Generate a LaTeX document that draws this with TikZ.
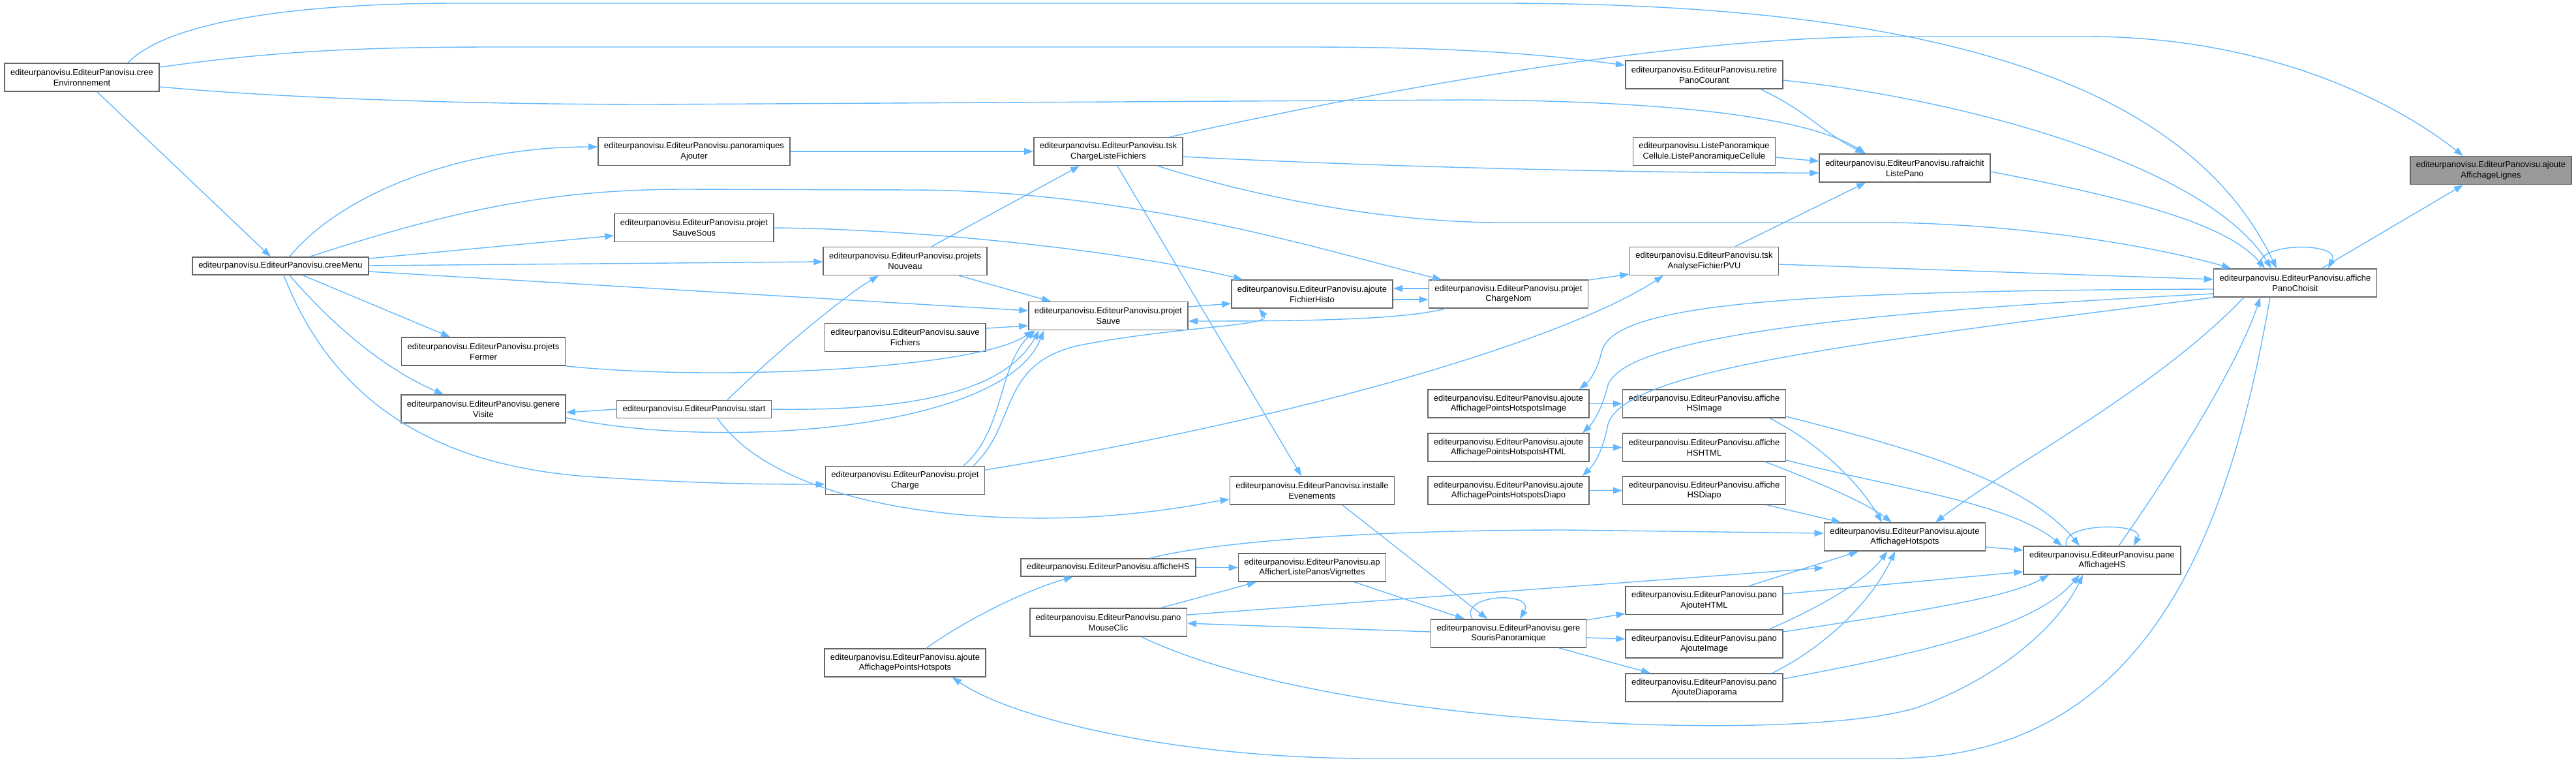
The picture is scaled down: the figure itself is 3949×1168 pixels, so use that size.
\documentclass[tikz,border=0pt]{standalone}
\usepackage{fontspec}
\setmainfont{Liberation Sans}
\usetikzlibrary{arrows.meta}
\definecolor{edgeblue}{HTML}{63B8FF}
\definecolor{boxgray}{HTML}{666666}
\definecolor{selgray}{HTML}{999999}
\begin{document}
\begin{tikzpicture}[x=1pt,y=-1pt,
	fn/.style={draw=boxgray, line width=1.6pt, fill=white, align=center,
		font=\fontsize{13}{15.7}\selectfont, inner xsep=9pt, minimum height=43pt},
	fn1/.style={fn, minimum height=27pt},
	fnsel/.style={fn, fill=selgray},
	edge/.style={draw=edgeblue, line width=1.4pt, -{Triangle[length=14pt,width=10pt]}}]
	
	\useasboundingbox (0,0) rectangle (3949,1168);
	
	% Nodes
	\node[fn] (creeEnv) at (125.5,118.5) {editeurpanovisu.EditeurPanovisu.cree\\Environnement};
	\node[fn1] (creeMenu) at (430,407.5) {editeurpanovisu.EditeurPanovisu.creeMenu};
	\node[fn] (fermer) at (741,538.5) {editeurpanovisu.EditeurPanovisu.projets\\Fermer};
	\node[fn] (genere) at (741,626.5) {editeurpanovisu.EditeurPanovisu.genere\\Visite};
	\node[fn] (panoAjouter) at (1064,232) {editeurpanovisu.EditeurPanovisu.panoramiques\\Ajouter};
	\node[fn] (sauveSous) at (1064,349) {editeurpanovisu.EditeurPanovisu.projet\\SauveSous};
	\node[fn1] (start) at (1064,627) {editeurpanovisu.EditeurPanovisu.start};
	\node[fn] (nouveau) at (1387.5,400) {editeurpanovisu.EditeurPanovisu.projets\\Nouveau};
	\node[fn] (sauveFich) at (1387.5,517) {editeurpanovisu.EditeurPanovisu.sauve\\Fichiers};
	\node[fn] (charge) at (1387.5,736) {editeurpanovisu.EditeurPanovisu.projet\\Charge};
	\node[fn] (ptsHotspots) at (1387.5,1015.5) {editeurpanovisu.EditeurPanovisu.ajoute\\AffichagePointsHotspots};
	\node[fn] (tskCharge) at (1699,232) {editeurpanovisu.EditeurPanovisu.tsk\\ChargeListeFichiers};
	\node[fn] (sauve) at (1699,484) {editeurpanovisu.EditeurPanovisu.projet\\Sauve};
	\node[fn1] (afficheHS) at (1699,869.5) {editeurpanovisu.EditeurPanovisu.afficheHS};
	\node[fn] (mouseClic) at (1699,953.5) {editeurpanovisu.EditeurPanovisu.pano\\MouseClic};
	\node[fn] (fichHisto) at (2011.5,450.5) {editeurpanovisu.EditeurPanovisu.ajoute\\FichierHisto};
	\node[fn] (installe) at (2011.5,751.5) {editeurpanovisu.EditeurPanovisu.installe\\Evenements};
	\node[fn] (apAfficher) at (2011.5,869.5) {editeurpanovisu.EditeurPanovisu.ap\\AfficherListePanosVignettes};
	\node[fn] (chargeNom) at (2312.5,450.5) {editeurpanovisu.EditeurPanovisu.projet\\ChargeNom};
	\node[fn] (ptsImage) at (2312.5,618.5) {editeurpanovisu.EditeurPanovisu.ajoute\\AffichagePointsHotspotsImage};
	\node[fn] (ptsHTML) at (2312.5,685.5) {editeurpanovisu.EditeurPanovisu.ajoute\\AffichagePointsHotspotsHTML};
	\node[fn] (ptsDiapo) at (2312.5,751.5) {editeurpanovisu.EditeurPanovisu.ajoute\\AffichagePointsHotspotsDiapo};
	\node[fn] (gereSouris) at (2312.5,970.5) {editeurpanovisu.EditeurPanovisu.gere\\SourisPanoramique};
	\node[fn] (retire) at (2612.5,114.5) {editeurpanovisu.EditeurPanovisu.retire\\PanoCourant};
	\node[fn] (cellule) at (2612.5,232) {editeurpanovisu.ListePanoramique\\Cellule.ListePanoramiqueCellule};
	\node[fn] (tskAnalyse) at (2612.5,400) {editeurpanovisu.EditeurPanovisu.tsk\\AnalyseFichierPVU};
	\node[fn] (hsImage) at (2612.5,618.5) {editeurpanovisu.EditeurPanovisu.affiche\\HSImage};
	\node[fn] (hsHTML) at (2612.5,685.5) {editeurpanovisu.EditeurPanovisu.affiche\\HSHTML};
	\node[fn] (hsDiapo) at (2612.5,751.5) {editeurpanovisu.EditeurPanovisu.affiche\\HSDiapo};
	\node[fn] (ajHTML) at (2612.5,920) {editeurpanovisu.EditeurPanovisu.pano\\AjouteHTML};
	\node[fn] (ajImage) at (2612.5,986.5) {editeurpanovisu.EditeurPanovisu.pano\\AjouteImage};
	\node[fn] (ajDiapo) at (2612.5,1053.5) {editeurpanovisu.EditeurPanovisu.pano\\AjouteDiaporama};
	\node[fn] (rafraichit) at (2920,257.5) {editeurpanovisu.EditeurPanovisu.rafraichit\\ListePano};
	\node[fn] (ajHotspots) at (2920,822.5) {editeurpanovisu.EditeurPanovisu.ajoute\\AffichageHotspots};
	\node[fn] (paneHS) at (3222.5,858.5) {editeurpanovisu.EditeurPanovisu.pane\\AffichageHS};
	\node[fn] (panoChoisit) at (3518.5,433.5) {editeurpanovisu.EditeurPanovisu.affiche\\PanoChoisit};
	\node[fnsel] (lignes) at (3818.5,261) {editeurpanovisu.EditeurPanovisu.ajoute\\AffichageLignes};
	
	% creeEnvironnement
	\draw[edge] (creeEnv) -- (creeMenu);
	\draw[edge] (creeEnv.north -| 196,0) .. controls (250,40) and (420,5) .. (700,5) -- (2300,5) .. controls (2950,5) and (3350,120) .. (panoChoisit.north -| 3490,0);
	\draw[edge] (creeEnv.east |- 0,103) .. controls (420,78) and (560,72) .. (760,72) -- (2000,72) .. controls (2250,72) and (2380,85) .. (retire.west |- 0,100);
	\draw[edge] (creeEnv.east |- 0,133) .. controls (450,152) and (750,160) .. (1000,160) -- (2250,153) .. controls (2600,155) and (2780,185) .. (rafraichit.north -| 2860,0);
	
	% creeMenu
	\draw[edge] (creeMenu.north -| 444,0) .. controls (520,300) and (700,225) .. (panoAjouter.west |- 0,225);
	\draw[edge] (creeMenu.north -| 475,0) .. controls (700,320) and (850,290) .. (1050,290) -- (1400,291) .. controls (1750,292) and (2050,390) .. (chargeNom.north -| 2210,0);
	\draw[edge] (creeMenu.east |- 0,396) -- (sauveSous.west |- 0,361);
	\draw[edge] (creeMenu.east |- 0,407) -- (nouveau.west |- 0,401);
	\draw[edge] (creeMenu.east |- 0,416) -- (sauve.west |- 0,476);
	\draw[edge] (creeMenu.south -| 464,0) -- (fermer.north -| 690,0);
	\draw[edge] (creeMenu.south -| 444,0) .. controls (520,510) and (600,570) .. (genere.north -| 680,0);
	\draw[edge] (creeMenu.south -| 435,0) .. controls (520,640) and (700,715) .. (900,730) .. controls (1050,740) and (1150,742) .. (charge.west |- 0,742);
	
	% projets
	\draw[edge] (panoAjouter) -- (tskCharge);
	\draw[edge] (sauveSous.east) .. controls (1450,352) and (1750,390) .. (fichHisto.north -| 1905,0);
	\draw[edge] (fermer.south east) .. controls (1100,585) and (1500,565) .. (sauve.south -| 1584,0);
	\draw[edge] (genere.east |- 0,640) .. controls (1100,690) and (1540,660) .. (sauve.south -| 1600,0);
	\draw[edge] (start.west) -- (genere.east |- 0,632);
	\draw[edge] (start.north -| 1115,0) .. controls (1200,530) and (1300,450) .. (nouveau.south -| 1347,0);
	\draw[edge] (start.east) .. controls (1400,630) and (1540,600) .. (sauve.south -| 1593,0);
	\draw[edge] (start.south -| 1100,0) .. controls (1200,780) and (1500,805) .. (1700,790) .. controls (1800,782) and (1850,770) .. (installe.west |- 0,765);
	\draw[edge] (nouveau.north -| 1428,0) -- (tskCharge.south -| 1655,0);
	\draw[edge] (nouveau.south -| 1470,0) -- (sauve.north -| 1611,0);
	\draw[edge] (sauveFich.east |- 0,503) -- (sauve.west |- 0,499);
	\draw[edge] (charge.north -| 1477,0) .. controls (1540,660) and (1530,560) .. (sauve.south -| 1587,0);
	\draw[edge] (charge.north -| 1492,0) .. controls (1560,650) and (1530,560) .. (1650,530) .. controls (1800,500) and (1950,500) .. (fichHisto.south -| 1930,0);
	\draw[edge] (charge.east |- 0,720) .. controls (2000,640) and (2400,520) .. (tskAnalyse.south -| 2550,0);
	\draw[edge] (sauve.east |- 0,470) -- (fichHisto.west |- 0,465);
	\draw[edge] (fichHisto.east |- 0,459) -- (chargeNom.west |- 0,459);
	\draw[edge] (chargeNom.west |- 0,442) -- (fichHisto.east |- 0,442);
	\draw[edge] (chargeNom.south -| 2216,0) .. controls (2150,490) and (2000,492) .. (sauve.east |- 0,492);
	\draw[edge] (chargeNom.east |- 0,429) -- (tskAnalyse.west |- 0,420);
	
	% tskChargeListeFichiers
	\draw[edge] (tskCharge.north -| 1794,0) .. controls (2200,120) and (2600,56) .. (2900,56) -- (3200,56) .. controls (3450,56) and (3650,140) .. (lignes.north -| 3776,0);
	\draw[edge] (tskCharge.east |- 0,240) .. controls (2100,255) and (2500,265) .. (rafraichit.west |- 0,265);
	\draw[edge] (tskCharge.south -| 1775,0) .. controls (1950,310) and (2150,341) .. (2300,341) -- (2900,341) .. controls (3150,345) and (3350,390) .. (panoChoisit.north -| 3420,0);
	\draw[edge] (tskCharge.south -| 1713,0) -- (installe.north -| 1995,0);
	
	% hotspots, souris
	\draw[edge] (installe.south -| 2058,0) -- (gereSouris.north -| 2280,0);
	\draw[edge] (afficheHS) -- (apAfficher);
	\draw[edge] (afficheHS.north -| 1763,0) .. controls (1860,830) and (2100,812) .. (2400,812) -- (ajHotspots.west |- 0,817);
	\draw[edge] (apAfficher.south -| 2076,0) -- (gereSouris.north -| 2245,0);
	\draw[edge] (mouseClic.north -| 1780,0) -- (apAfficher.south -| 1926,0);
	\draw[edge] (mouseClic.east |- 0,942) -- (ajHotspots.west |- 0,870);
	\draw[edge] (mouseClic.south -| 1750,0) .. controls (2050,1120) and (2800,1140) .. (2950,1080) .. controls (3080,1030) and (3160,950) .. (paneHS.south -| 3193,0);
	\draw[edge] (ptsHotspots.north -| 1420,0) .. controls (1480,950) and (1570,905) .. (afficheHS.south -| 1645,0);
	\draw[edge] (gereSouris.west |- 0,968) -- (mouseClic.east |- 0,955);
	\draw[edge] (gereSouris.north -| 2257,0) .. controls (2235,910) and (2355,905) .. (gereSouris.north -| 2330,0);
	\draw[edge] (gereSouris.east |- 0,950) -- (ajHTML.west |- 0,940);
	\draw[edge] (gereSouris.east |- 0,977) -- (ajImage.west |- 0,979);
	\draw[edge] (gereSouris.south -| 2390,0) -- (ajDiapo.north -| 2530,0);
	
	% rafraichit, retire
	\draw[edge] (retire.south -| 2699,0) .. controls (2770,170) and (2790,200) .. (rafraichit.north -| 2858,0);
	\draw[edge] (retire.east |- 0,123) .. controls (3000,150) and (3380,250) .. (panoChoisit.north -| 3482,0);
	\draw[edge] (cellule.east |- 0,241) -- (rafraichit.west |- 0,247);
	\draw[edge] (rafraichit.east |- 0,263) .. controls (3300,310) and (3420,350) .. (panoChoisit.north -| 3472,0);
	\draw[edge] (tskAnalyse.north -| 2660,0) -- (rafraichit.south -| 2860,0);
	\draw[edge] (tskAnalyse.east |- 0,405) -- (panoChoisit.west |- 0,428);
	
	% affiche HS*
	\draw[edge] (ptsImage) -- (hsImage);
	\draw[edge] (ptsHTML) -- (hsHTML);
	\draw[edge] (ptsDiapo) -- (hsDiapo);
	\draw[edge] (hsImage.south -| 2713,0) .. controls (2790,680) and (2850,740) .. (ajHotspots.north -| 2885,0);
	\draw[edge] (hsImage.east |- 0,638) .. controls (2900,680) and (3100,730) .. (paneHS.north -| 3188,0);
	\draw[edge] (hsHTML.south -| 2707,0) .. controls (2790,740) and (2860,770) .. (ajHotspots.north -| 2900,0);
	\draw[edge] (hsHTML.east |- 0,705) .. controls (2900,747) and (3080,770) .. (paneHS.north -| 3161,0);
	\draw[edge] (hsDiapo.south -| 2709,0) -- (ajHotspots.north -| 2822,0);
	\draw[edge] (ajHotspots.east |- 0,838) -- (paneHS.west |- 0,843);
	\draw[edge] (ajHTML.north -| 2681,0) -- (ajHotspots.south -| 2849,0);
	\draw[edge] (ajHTML.east |- 0,910) -- (paneHS.west |- 0,876);
	\draw[edge] (ajImage.north -| 2712,0) .. controls (2790,930) and (2860,890) .. (ajHotspots.south -| 2893,0);
	\draw[edge] (ajImage.east |- 0,968) .. controls (2950,935) and (3080,915) .. (paneHS.south -| 3141,0);
	\draw[edge] (ajDiapo.north -| 2717,0) .. controls (2800,990) and (2870,920) .. (ajHotspots.south -| 2905,0);
	\draw[edge] (ajDiapo.east |- 0,1040) .. controls (2950,1000) and (3120,960) .. (paneHS.south -| 3188,0);
	
	% paneAffichageHS, affichePanoChoisit
	\draw[edge] (paneHS.north -| 3168,0) .. controls (3155,800) and (3290,800) .. (paneHS.north -| 3271,0);
	\draw[edge] (paneHS.north -| 3248,0) .. controls (3330,720) and (3430,560) .. (panoChoisit.south -| 3465,0);
	\draw[edge] (panoChoisit.north -| 3465,0) .. controls (3450,370) and (3590,370) .. (panoChoisit.north -| 3569,0);
	\draw[edge] (panoChoisit.north -| 3559,0) -- (lignes.south -| 3776,0);
	\draw[edge] (panoChoisit.west |- 0,443) .. controls (2700,445) and (2470,470) .. (2455,540) .. controls (2448,570) and (2435,585) .. (ptsImage.north -| 2421,0);
	\draw[edge] (panoChoisit.west |- 0,450) .. controls (2800,480) and (2490,520) .. (2465,590) .. controls (2455,630) and (2440,650) .. (ptsHTML.north -| 2426,0);
	\draw[edge] (panoChoisit.south west) .. controls (2800,530) and (2490,570) .. (2465,650) .. controls (2455,700) and (2440,715) .. (ptsDiapo.north -| 2426,0);
	\draw[edge] (panoChoisit.south -| 3440,0) .. controls (3300,600) and (3100,700) .. (ajHotspots.north -| 2967,0);
	\draw[edge] (panoChoisit.south -| 3480,0) .. controls (3420,800) and (3300,1162) .. (2900,1162) -- (2100,1162) .. controls (1800,1162) and (1550,1100) .. (ptsHotspots.south -| 1460,0);
	
\end{tikzpicture}
\end{document}
